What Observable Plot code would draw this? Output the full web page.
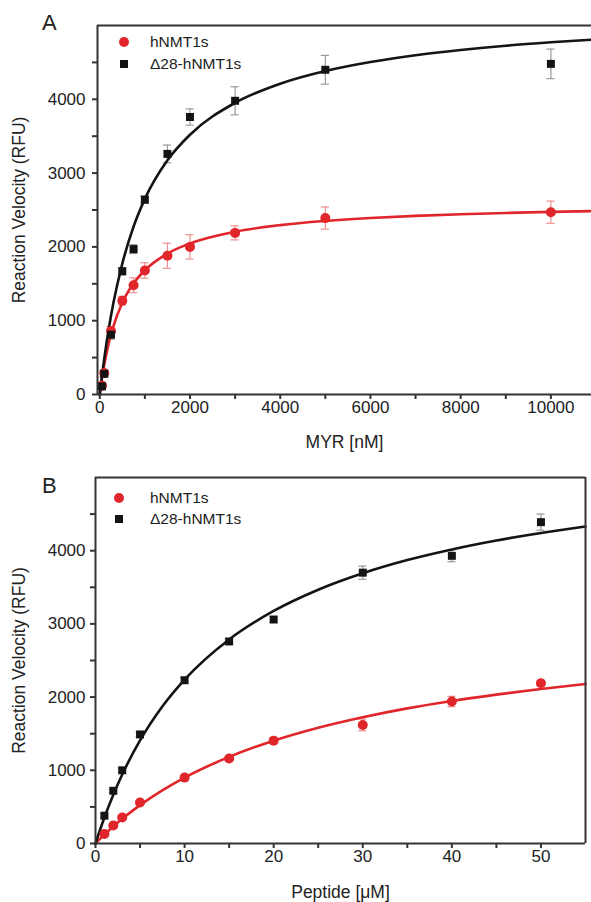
<!DOCTYPE html>
<html><head><meta charset="utf-8">
<script src="https://cdn.jsdelivr.net/npm/d3@7"></script>
<script src="https://cdn.jsdelivr.net/npm/@observablehq/plot@0.6"></script>
<style>
body{margin:0;background:#fff;font-family:"Liberation Sans",Arial,sans-serif;}
#wrap{position:relative;width:591px;height:902px;overflow:hidden;background:#fff}
.panel{position:absolute;left:0}
.letter{position:absolute;font-size:22px;color:#222;line-height:1}
.leg{position:absolute;font-size:15.5px;color:#222;line-height:1;white-space:nowrap}
.sym{position:absolute}
</style></head>
<body><div id="wrap"></div>
<script>
// ---------- Panel A : MYR [nM] ----------
const myrX      = [50, 100, 250, 500, 750, 1000, 1500, 2000, 3000, 5000, 10000];
const myrRed    = [120, 290, 860, 1270, 1480, 1680, 1880, 2000, 2190, 2390, 2470];
const myrRedErr = [30, 40, 60, 60, 100, 105, 170, 165, 95, 150, 150];
const myrBlk    = [110, 280, 810, 1670, 1970, 2640, 3260, 3760, 3980, 4400, 4480];
const myrBlkErr = [30, 40, 60, 50, 60, 50, 120, 110, 190, 195, 200];
// fitted curves
const fitMyrX   = [0, 50, 100, 200, 300, 500, 750, 1000, 1500, 2000, 3000, 4000, 5000, 6000, 7000, 8000, 9000, 10000, 10900];
const fitMyrRed = [0, 218, 402, 696, 921, 1243, 1506, 1684, 1910, 2047, 2206, 2295, 2351, 2391, 2420, 2442, 2460, 2474, 2485];
const fitMyrBlk = [0, 255, 487, 891, 1232, 1774, 2276, 2651, 3173, 3520, 3952, 4211, 4383, 4505, 4597, 4668, 4726, 4772, 4808];
const myrTicks  = [0, 1000, 2000, 3000, 4000, 5000, 6000, 7000, 8000, 9000, 10000];
const myrLabels = [0, 2000, 4000, 6000, 8000, 10000];

// ---------- Panel B : Peptide [μM] ----------
const pepX      = [1, 2, 3, 5, 10, 15, 20, 30, 40, 50];
const pepRed    = [130, 245, 355, 560, 900, 1160, 1405, 1620, 1940, 2190];
const pepRedErr = [20, 20, 20, 25, 30, 35, 40, 80, 70, 40];
const pepBlk    = [380, 720, 1000, 1490, 2230, 2760, 3060, 3700, 3930, 4390];
const pepBlkErr = [20, 20, 30, 30, 40, 40, 40, 90, 80, 110];
const fitPepX   = [0, 1, 2, 3, 5, 7.5, 10, 15, 20, 25, 30, 35, 40, 45, 50, 55];
const fitPepRed = [0, 121, 233, 337, 524, 726, 900, 1183, 1404, 1581, 1725, 1846, 1947, 2034, 2110, 2180];
const fitPepBlk = [0, 355, 666, 942, 1408, 1871, 2239, 2788, 3177, 3467, 3692, 3872, 4017, 4139, 4242, 4330];
const pepTicks  = [0, 5, 10, 15, 20, 25, 30, 35, 40, 45, 50];
const pepLabels = [0, 10, 20, 30, 40, 50];

const yTicks  = [0, 500, 1000, 1500, 2000, 2500, 3000, 3500, 4000, 4500];
const yLabels = [0, 1000, 2000, 3000, 4000];
const seriesNames = ["hNMT1s", "Δ28-hNMT1s"];
const yTitle = "Reaction Velocity (RFU)";

const RED = "#e0262b", BLK = "#141414", AX = "#333", TXT = "#222";

function makePanel(o) {
  const pts = (xs, ys, es) => xs.map((x, i) => ({x, y: ys[i], e: es[i]}));
  const fit = (xs, ys) => xs.map((x, i) => ({x, y: ys[i]}));
  const red = pts(o.x, o.red, o.redErr), blk = pts(o.x, o.blk, o.blkErr);
  const fr = fit(o.fitX, o.fitRed), fb = fit(o.fitX, o.fitBlk);
  const cap = o.capHalf;
  const errMarks = (d, c) => [
    Plot.ruleX(d, {x: "x", y1: v => v.y - v.e, y2: v => v.y + v.e, stroke: c, strokeWidth: 1.2}),
    Plot.ruleY(d, {y: v => v.y + v.e, x1: v => v.x - cap, x2: v => v.x + cap, stroke: c, strokeWidth: 1.2}),
    Plot.ruleY(d, {y: v => v.y - v.e, x1: v => v.x - cap, x2: v => v.x + cap, stroke: c, strokeWidth: 1.2})
  ];
  return Plot.plot({
    width: 591, height: o.height,
    marginTop: o.mt, marginBottom: o.mb, marginLeft: o.ml, marginRight: o.mr,
    style: {fontFamily: "'Liberation Sans', Arial, sans-serif", fontSize: "17px", background: "transparent", overflow: "visible"},
    x: {domain: o.xDomain},
    y: {domain: [0, 5000]},
    marks: [
      Plot.axisX({ticks: o.xTicks, tickSize: 5, stroke: AX, strokeWidth: 2, tickFormat: () => "", label: null}),
      Plot.axisY({ticks: yTicks, tickSize: 5, stroke: AX, strokeWidth: 2, tickFormat: () => "", label: null}),
      Plot.text(o.xLabels, {x: d => d, text: d => String(d), frameAnchor: "bottom", dy: 13.5, lineAnchor: "middle", textAnchor: "middle", fontSize: 17, fill: TXT}),
      Plot.text(yLabels, {y: d => d, text: d => String(d), frameAnchor: "left", dx: o.yLabelDx, lineAnchor: "middle", textAnchor: "end", fontSize: 17, fill: TXT}),
      ...errMarks(red, "#ee8f8f"),
      ...errMarks(blk, "#9a9a9a"),
      Plot.line(fr, {x: "x", y: "y", stroke: RED, strokeWidth: 2.6, curve: "monotone-x"}),
      Plot.line(fb, {x: "x", y: "y", stroke: BLK, strokeWidth: 2.6, curve: "monotone-x"}),
      Plot.dot(red, {x: "x", y: "y", r: 5, fill: RED, stroke: "none"}),
      Plot.dot(blk, {x: "x", y: "y", r: 4.5, symbol: "square", fill: BLK, stroke: "none"}),
      Plot.ruleY([0], {stroke: AX, strokeWidth: 2}),
      Plot.ruleX([o.xDomain[0]], {stroke: AX, strokeWidth: 2}),
      Plot.ruleY([5000], {stroke: AX, strokeWidth: 2}),
      ...(o.rightBorder ? [Plot.ruleX([o.xDomain[1]], {stroke: AX, strokeWidth: 2})] : []),
      Plot.text([o.xTitle], {text: d => d, frameAnchor: "bottom", dy: o.xTitleDy, fontSize: 17.5, fill: TXT, lineAnchor: "middle", textAnchor: "middle"}),
      Plot.text([yTitle], {text: d => d, frameAnchor: "left", rotate: -90, dx: o.yTitleDx, fontSize: 17.5, fill: TXT, lineAnchor: "middle", textAnchor: "middle"})
    ]
  });
}

const wrap = document.getElementById("wrap");
function place(el, top) { el.classList.add("panel"); el.style.top = top + "px"; wrap.appendChild(el); }

place(makePanel({
  height: 460, mt: 25, mb: 66, ml: 97, mr: 0,
  xDomain: [-50, 10900], xTicks: myrTicks, xLabels: myrLabels,
  x: myrX, red: myrRed, redErr: myrRedErr, blk: myrBlk, blkErr: myrBlkErr,
  fitX: fitMyrX, fitRed: fitMyrRed, fitBlk: fitMyrBlk, capHalf: 90,
  xTitle: "MYR [nM]", xTitleDy: 48, yTitleDx: -78, yLabelDx: -12, rightBorder: false
}), 0);

place(makePanel({
  height: 450, mt: 25, mb: 59, ml: 95, mr: 6,
  xDomain: [0, 55], xTicks: pepTicks, xLabels: pepLabels,
  x: pepX, red: pepRed, redErr: pepRedErr, blk: pepBlk, blkErr: pepBlkErr,
  fitX: fitPepX, fitRed: fitPepRed, fitBlk: fitPepBlk, capHalf: 0.45,
  xTitle: "Peptide [μM]", xTitleDy: 49, yTitleDx: -76, yLabelDx: -10, rightBorder: true
}), 452);

function addDiv(cls, text, left, top, css) {
  const d = document.createElement("div");
  d.className = cls; if (text) d.textContent = text;
  d.style.left = left + "px"; d.style.top = top + "px";
  if (css) Object.assign(d.style, css);
  wrap.appendChild(d);
}
// panel letters
addDiv("letter", "A", 42, 12);
addDiv("letter", "B", 42, 475);
// legends
function legend(cx, cyRed, cyBlk, tx) {
  addDiv("sym", "", cx - 5, cyRed - 5, {width: "10px", height: "10px", borderRadius: "50%", background: RED});
  addDiv("sym", "", cx - 4, cyBlk - 4, {width: "8px", height: "8px", background: BLK});
  addDiv("leg", seriesNames[0], tx, cyRed - 7.6);
  addDiv("leg", seriesNames[1], tx, cyBlk - 7.6);
}
legend(124, 42, 64, 150);
legend(119, 498, 519, 150);
</script></body></html>
